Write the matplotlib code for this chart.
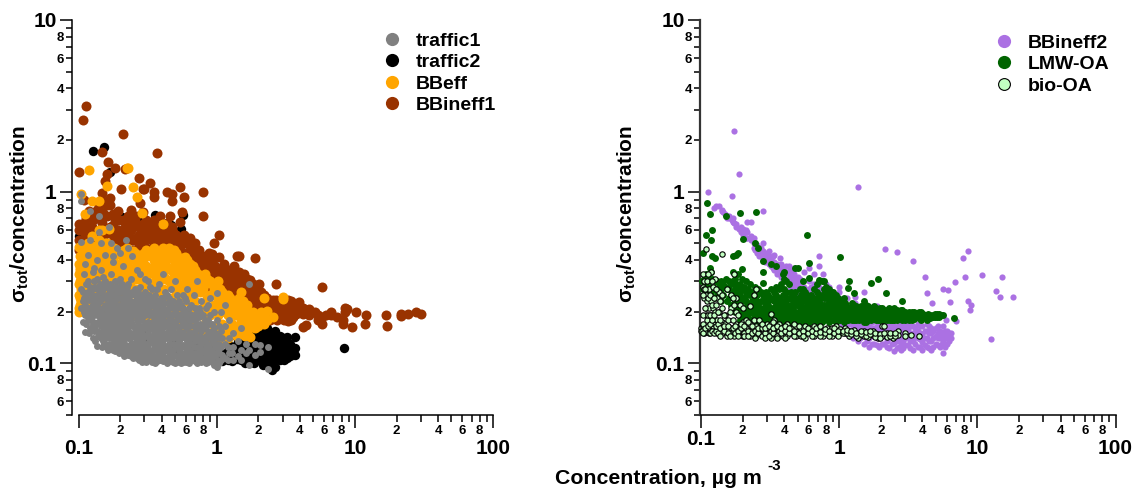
import matplotlib
matplotlib.use("Agg")
import matplotlib.pyplot as plt
from matplotlib.lines import Line2D

plt.rcParams['font.family'] = ['Liberation Sans', 'DejaVu Sans']
plt.rcParams['font.weight'] = 'bold'
plt.rcParams['mathtext.fontset'] = 'custom'
plt.rcParams['mathtext.bf'] = 'Liberation Sans:bold'
plt.rcParams['mathtext.rm'] = 'Liberation Sans:bold'
plt.rcParams['mathtext.default'] = 'bf'

# each row: (concentration, [sigma/concentration values at that concentration])
traffic2 = [
 (.1,[.555]),(.127,[1.72]),(.154,[1.81]),(.17,[1.3]),(.148,[.69]),(.207,[.716]),(.249,[.53]),(.279,[.67]),
 (.36,[.735]),(.41,[.65]),(.467,[.64]),(.548,[.607]),(.575,[.735]),(.64,[.5]),(.65,[.4]),(.853,[.402]),
 (.3,[.16,.14]),(.5,[.14,.12]),(.7,[.125,.13]),(.85,[.115,.125]),(.92,[.11,.12]),
 (1.0,[.105,.112]),(1.1,[.103,.115]),(1.2,[.105,.118,.13]),(1.3,[.103,.113,.125]),(1.4,[.106,.118,.13,.142]),
 (1.5,[.104,.115,.127,.14,.15]),(1.6,[.101,.112,.124,.136,.148]),(1.72,[.1,.11,.12,.132,.145,.158]),
 (1.85,[.1,.11,.122,.135,.148,.162]),(2.0,[.104,.115,.127,.14,.152,.165]),(2.15,[.098,.108,.12,.132,.145,.158,.17]),
 (2.3,[.1,.11,.122,.135,.148,.16]),(2.5,[.092,.102,.113,.125,.138,.15]),(2.65,[.095,.106,.118,.13,.143,.155]),
 (2.85,[.104,.112,.122,.133,.145]),(3.05,[.105,.115,.125,.14]),(3.2,[.108,.118,.128,.143]),(3.4,[.11,.12,.13]),
 (3.67,[.112,.122,.142]),(8.4,[.122]),
]
bbineff1 = [
 (.1,[.46,.52,.6,.65]),(.101,[1.3]),(.105,[.48,.63]),(.107,[2.61]),(.113,[3.16,.55,.7]),(.12,[.5,.62,.77]),
 (.128,[.46,.56,.68]),(.14,[.48,.6,.74,.83]),(.149,[1.71,.98,.52,.66]),(.155,[1.15,.44,.57]),(.161,[1.27,.84,.72]),
 (.163,[1.48]),(.17,[.914,.837,.5,.62]),(.184,[1.37,.44,.55,.69]),(.193,[.775,.5,.6]),(.202,[1.04,.46,.54]),
 (.21,[2.17,.68]),(.217,[1.36,.62,.5]),(.23,[.72,.44,.56,.66]),(.25,[.62,.46,.52]),(.272,[1.2,.56,.62,.48]),
 (.28,[.86,.5,.43]),(.295,[.76,1.03,.58,.65,.5]),(.3,[1.03]),(.329,[1.12,.53,.62,.46]),(.35,[1.0,.935,.68,.58,.5]),
 (.37,[1.68,.62,.54]),(.39,[.72,.5,.58,.45]),(.434,[.99,.66,.56,.5,.45]),(.459,[.725,.58,.5]),(.474,[.975,.887,.62,.54]),
 (.51,[.5,.56,.44,.4]),(.547,[1.06,.664,.52,.46]),(.557,[.76]),(.579,[.935,.56,.5]),(.64,[.54,.48,.42,.37]),
 (.7,[.5,.44,.38,.34]),(.77,[.38,.42,.35,.31]),(.794,[.99,.725]),(.85,[.36,.32,.4,.28]),(.92,[.39,.436,.33,.28]),
 (.96,[.5,.31,.36]),(1.04,[.56,.414,.34,.3,.26]),(1.12,[.34,.38,.3,.26]),(1.22,[.35,.31,.28,.24]),(1.33,[.33,.37,.29,.25]),
 (1.4,[.42,.335,.3,.27]),(1.46,[.42,.34,.25,.29]),(1.57,[.33,.3,.27,.23]),(1.74,[.304,.27,.24,.21]),(1.9,[.41,.26,.23]),
 (2.02,[.29,.24,.21]),(2.2,[.25,.22,.19]),(2.45,[.22,.2,.18]),(2.67,[.288,.235,.21,.19]),(2.85,[.23,.205,.185]),
 (3.05,[.225,.2,.18]),(3.3,[.235,.21,.19,.176]),(3.55,[.225,.2,.185]),(3.75,[.215,.195]),(3.94,[.229,.2]),
 (4.2,[.163,.21,.195]),(4.4,[.168,.205]),(4.62,[.208,.19]),(5.14,[.199]),(5.45,[.18,.19]),(5.74,[.28,.17,.185]),
 (6.2,[.19]),(6.7,[.199,.19]),(7.4,[.186]),(8.2,[.17,.18]),(8.5,[.2,.21]),(8.7,[.208]),(9.6,[.163]),(10.2,[.199]),
 (11.8,[.17]),(12,[.19]),(16.7,[.192]),(17.1,[.166]),(21.6,[.195,.188]),(24.3,[.193]),(27.5,[.199]),(30.2,[.195]),
 (.11,[.58,.66,.9]),(.125,[.5,.62,.72]),(.135,[.56,.7,.78]),(.15,[.58,.75,.88]),(.178,[.56,.64,.74]),(.195,[.68,.58,.54]),
 (.21,[.54,.58,.46]),(.24,[.52,.6,.68,.78]),(.26,[.54,.66,.72]),(.31,[.56,.68,.47]),(.36,[.44,.5,.56,.6]),(.41,[.48,.54,.62,.58]),
 (.48,[.46,.52,.58]),(.53,[.42,.48,.54]),(.6,[.44,.5,.4]),(.67,[.42,.47,.38]),(.74,[.37,.4,.46]),(.82,[.33,.37,.42]),
 (.88,[.3,.34,.38,.44]),(.98,[.29,.33,.37]),(1.08,[.3,.33,.36]),(1.18,[.28,.32,.35]),(1.28,[.27,.31,.35]),(1.5,[.26,.3,.33]),
 (1.65,[.25,.28,.31]),(1.82,[.23,.26,.29]),(2.1,[.21,.23,.26]),(2.3,[.2,.22,.24]),(2.55,[.195,.215,.235]),(2.75,[.18,.2,.22]),
 (2.95,[.19,.215,.235]),(3.15,[.185,.205,.225]),(3.45,[.18,.195,.215,.23]),(3.65,[.19,.21,.22]),
]
bbeff = [
 (.1,[.2,.21,.25,.29,.33,.38,.474]),(.105,[.97,.23,.27,.31,.47]),(.112,[.2,.26,.36,.44,.74]),(.119,[1.34,.22,.29,.33]),
 (.125,[.88,.24,.38,.43,.55]),(.13,[.41,.2,.27,.33]),(.14,[.88,.6,.24,.3,.37,.52]),(.148,[.6,.22,.33,.43]),
 (.155,[.27,.38,.5,.2]),(.162,[1.08,.24,.31]),(.165,[.61,.44,.37]),(.175,[.21,.28,.34,.4]),(.19,[.25,.32,.38,.45]),
 (.205,[.2,.28,.35,.42]),(.223,[1.38,.24,.31,.39,.47]),(.23,[1.37]),(.24,[.21,.27,.34,.41]),(.249,[1.06,.45]),
 (.266,[.927,.19,.25,.31,.37,.42]),(.289,[.748,.22,.28,.34,.4]),(.31,[.19,.25,.31,.37,.46]),(.335,[.2,.27,.34,.42]),
 (.36,[.18,.23,.3,.37,.44]),(.39,[.2,.26,.33,.4]),(.41,[.645,.17,.47]),(.43,[.19,.24,.31,.37,.43]),(.47,[.16,.22,.28,.35,.42,.46]),
 (.51,[.18,.25,.31,.38,.44]),(.55,[.16,.21,.28,.35,.41]),(.589,[.415,.18,.25,.32,.37]),(.64,[.15,.2,.27,.34,.38]),
 (.7,[.16,.23,.29,.35]),(.76,[.14,.19,.26,.32]),(.82,[.135,.17,.22,.29,.33]),(.89,[.135,.19,.25,.3]),(.95,[.14,.165,.22,.27]),
 (1.02,[.3,.135,.19,.24]),(1.1,[.145,.17,.21,.26]),(1.2,[.14,.19,.23,.25]),(1.3,[.15,.17,.21]),(1.4,[.145,.19,.23]),
 (1.5,[.26,.15,.175,.21]),(1.6,[.145,.17,.2]),(1.67,[.22,.15,.185]),(1.74,[.142,.17,.2]),(1.9,[.16,.18,.195]),
 (2.0,[.165,.19]),(2.2,[.239,.17,.19]),(2.3,[.203,.18]),(2.57,[.186]),(3.0,[.243,.238]),
 (.103,[.22,.35]),(.115,[.24,.31,.4]),(.122,[.2,.27,.35,.47]),(.135,[.22,.3,.35,.45]),(.145,[.26,.4,.5]),(.152,[.31,.36,.46]),
 (.17,[.23,.3,.36,.44]),(.18,[.25,.31,.42,.47]),(.198,[.22,.29,.36,.44]),(.215,[.26,.33,.4,.46]),(.235,[.22,.29,.36,.43]),
 (.255,[.19,.27,.33,.4,.44]),(.28,[.2,.25,.31,.37,.43]),(.3,[.21,.28,.34,.41,.44]),(.325,[.18,.24,.29,.36,.44]),
 (.35,[.2,.27,.33,.4,.47]),(.38,[.18,.24,.3,.36,.44]),(.41,[.2,.27,.33,.39,.45]),(.45,[.17,.24,.3,.36,.41,.47]),
 (.49,[.2,.27,.33,.4,.46]),(.53,[.17,.23,.29,.36,.41]),(.57,[.2,.27,.33,.39]),(.61,[.17,.23,.3,.36,.4]),(.67,[.18,.25,.31,.37]),
 (.73,[.15,.2,.28,.33]),(.79,[.16,.21,.27,.31]),(.85,[.15,.19,.24,.31]),(.92,[.15,.21,.25,.29]),(.99,[.15,.2,.25]),
 (1.06,[.16,.22,.27]),(1.15,[.15,.2,.24]),(1.25,[.16,.2,.24]),(1.35,[.15,.19,.22]),(1.45,[.16,.2,.24]),(1.55,[.16,.19,.23]),
 (1.7,[.16,.19]),(1.82,[.17,.2]),(2.1,[.18,.2]),
 (.102,[.24,.3,.36,.42]),(.108,[.21,.28,.34,.4]),(.118,[.21,.26,.36,.42,.5]),(.128,[.22,.3,.4,.48]),(.14,[.2,.27,.34,.42,.47]),
 (.16,[.21,.28,.35,.42,.5]),(.185,[.21,.28,.36,.45]),(.21,[.21,.29,.37,.45]),
]
traffic1 = [
 (.105,[.97,.88,.21,.27,.51]),(.109,[.2,.24,.33]),(.111,[.152,.19,.22,.38]),(.118,[.18,.21,.26,.3,.43]),
 (.122,[.77,.16,.28,.52]),(.128,[.17,.2,.23,.34]),(.135,[.127,.155,.19,.25,.31,.4]),(.14,[.72,.58,.175,.21,.28]),
 (.146,[.14,.165,.2,.26,.35,.5]),(.155,[.15,.18,.22,.24,.3,.43]),(.165,[.13,.16,.19,.23,.27,.62]),
 (.172,[.14,.17,.21,.25,.33,.5]),(.179,[.119,.15,.18,.22,.39,.42]),(.19,[.127,.14,.165,.2,.24,.28,.47]),
 (.2,[.122,.155,.18,.21,.26,.31,.44]),(.211,[.118,.135,.17,.195,.23,.37]),(.22,[.128,.15,.185,.215,.25,.52]),
 (.23,[.112,.14,.16,.2,.24,.29,.47]),(.245,[.12,.13,.17,.19,.225,.26,.42]),(.263,[.107,.125,.145,.18,.21,.24,.35]),
 (.28,[.112,.135,.155,.19,.22,.28,.33]),(.295,[.105,.12,.14,.165,.2,.25]),(.32,[.11,.128,.15,.175,.21,.24,.3]),
 (.34,[.102,.118,.135,.16,.19,.225,.27]),(.357,[.1,.125,.145,.17,.2,.25]),(.38,[.105,.118,.14,.155,.185,.22,.29]),
 (.41,[.103,.112,.13,.15,.18,.21,.24,.33]),(.44,[.1,.12,.14,.165,.195,.25]),(.47,[.105,.115,.13,.15,.18,.215,.27]),
 (.5,[.1,.112,.125,.145,.17,.2,.3]),(.53,[.105,.118,.135,.155,.185,.23]),(.57,[.102,.112,.128,.15,.175,.21,.25]),
 (.61,[.103,.12,.135,.165,.195,.27]),(.65,[.105,.115,.13,.15,.18,.22]),(.716,[.3,.1,.112,.125,.145,.17,.2]),
 (.77,[.102,.115,.13,.155,.19,.23]),(.83,[.1,.11,.125,.145,.17,.21]),(.89,[.104,.118,.14,.19,.24]),(.95,[.098,.11,.13,.16,.2]),
 (1.0,[.095,.115,.14,.256,.18]),(1.07,[.105,.125,.155,.2]),(1.14,[.108,.13,.165,.22]),(1.22,[.115,.14,.18]),
 (1.32,[.105,.125,.15]),(1.42,[.11,.135]),(1.5,[.16,.12,.105]),(1.62,[.13,.115]),(1.7,[.098,.288,.12]),(1.9,[.112,.13]),
 (2.06,[.128,.117]),(2.35,[.093,.125]),
 (.125,[.185,.215,.25]),(.13,[.155,.3,.36]),(.143,[.15,.185,.23,.29]),(.15,[.135,.16,.21,.27,.32]),(.16,[.125,.145,.175,.205,.25]),
 (.168,[.15,.19,.22,.29]),(.175,[.122,.16,.2,.23,.27]),(.185,[.135,.17,.21,.25,.3]),(.195,[.115,.15,.19,.22,.27]),
 (.205,[.125,.145,.175,.2,.24,.29]),(.215,[.11,.155,.185,.21,.26]),(.225,[.12,.165,.195,.23,.28]),(.24,[.11,.13,.15,.18,.21,.25,.31]),
 (.255,[.115,.16,.2,.23,.27]),(.27,[.112,.13,.17,.2,.225,.26]),(.288,[.102,.125,.15,.18,.21,.24]),(.305,[.11,.13,.16,.19,.22,.26,.31]),
 (.33,[.105,.12,.14,.165,.2,.23,.28]),(.35,[.11,.13,.155,.18,.215,.24]),(.37,[.103,.12,.135,.165,.195,.23,.27]),
 (.395,[.11,.125,.145,.17,.2,.24]),(.425,[.105,.125,.14,.165,.19,.225,.26]),(.455,[.11,.13,.155,.18,.21,.24]),
 (.485,[.102,.12,.14,.16,.19,.23]),(.515,[.11,.13,.15,.18,.21,.25]),(.55,[.1,.115,.14,.165,.195,.22]),(.59,[.11,.125,.145,.17,.2,.24]),
 (.63,[.1,.112,.13,.15,.18,.21]),(.68,[.11,.125,.14,.165,.19,.25]),(.74,[.105,.12,.135,.16,.185,.21]),(.8,[.108,.12,.14,.165,.19]),
 (.86,[.102,.115,.13,.155,.18,.22]),(.92,[.105,.12,.145,.17]),(.98,[.1,.11,.125,.15]),(1.04,[.1,.115,.13,.165]),(1.1,[.112,.14]),
 (1.2,[.105,.125]),(1.28,[.115]),
 (.108,[.175,.23,.26]),(.113,[.17,.205,.25,.29]),(.12,[.15,.195,.235]),(.127,[.14,.175,.205,.27]),(.132,[.135,.165,.215,.24,.28]),
 (.138,[.145,.175,.205,.225,.27]),(.148,[.125,.15,.175,.195,.24]),(.153,[.13,.19,.25,.29]),(.158,[.14,.165,.19,.215,.28]),(.163,[.12,.155,.18,.24]),
 (.17,[.125,.155,.185,.235,.26]),(.178,[.13,.14,.17,.19,.21,.25]),(.183,[.118,.155,.19,.23,.28]),(.19,[.145,.18,.21,.26]),(.198,[.12,.135,.165,.205,.24,.3]),
 (.208,[.13,.16,.19,.22,.27]),(.218,[.115,.14,.17,.2,.24]),(.228,[.125,.15,.18,.215,.26]),(.235,[.115,.14,.17,.2,.23]),(.25,[.108,.125,.145,.165,.19,.21]),
 (.26,[.115,.135,.155,.19,.215,.25]),(.275,[.105,.12,.145,.165,.185,.215,.24]),(.29,[.115,.135,.16,.19,.225]),(.31,[.102,.12,.145,.17,.2,.235]),
 (.325,[.113,.135,.16,.19,.215,.25]),(.345,[.103,.12,.145,.17,.2,.23]),(.365,[.11,.13,.15,.18,.21]),(.385,[.105,.125,.15,.175,.2,.23]),(.405,[.115,.135,.16,.185,.22]),
 (.43,[.108,.12,.15,.175,.205]),(.46,[.103,.12,.14,.165,.195,.225]),(.49,[.11,.13,.15,.175,.21]),(.52,[.102,.125,.14,.165,.195,.22]),(.56,[.108,.125,.15,.18,.21]),
 (.6,[.102,.115,.14,.16,.185,.23]),(.64,[.108,.12,.14,.165,.195]),(.7,[.103,.115,.135,.155,.18,.21]),(.76,[.108,.125,.145,.17,.2]),(.82,[.104,.118,.135,.16,.18]),
 (.88,[.11,.125,.15,.17]),(.94,[.102,.115,.135,.155]),(1.02,[.105,.12,.145]),
]
bbineff2 = [
 (.113,[.99]),(.125,[.8]),(.128,[.82]),(.134,[.83]),(.141,[.775,.78]),(.15,[.74]),(.16,[.7,.72]),(.167,[.94,.68]),(.173,[2.26,.66]),
 (.18,[.65,.62]),(.188,[1.27,.61]),(.202,[.607,.56]),(.215,[.67,.54,.58]),(.23,[.52,.67,.55]),(.24,[.5,.47,.54]),(.253,[.486,.44]),(.265,[.47,.42,.45]),
 (.28,[.77,.45,.4,.5]),(.29,[.425,.39]),(.31,[.42,.38,.45]),(.33,[.39,.36,.42]),(.353,[.355,.38,.33]),(.38,[.35,.32,.38]),(.41,[.34,.3,.37]),
 (.44,[.32,.35,.29,.27]),(.47,[.3,.33,.27,.36]),(.5,[.29,.32,.27,.25]),(.52,[.29,.26,.31]),(.56,[.28,.25,.34]),(.6,[.27,.3,.25,.36]),
 (.66,[.26,.33,.29]),(.72,[.25,.42,.28,.37]),(.76,[.266,.24,.33]),(.85,[.25,.23,.28]),(1.0,[.24,.26,.28]),(1.13,[.24,.21]),(1.3,[.225,.245]),(1.5,[.22,.26]),(1.87,[.217]),
 (1.36,[1.06]),(2.15,[.464]),(2.6,[.444]),(3.4,[.397]),(4.2,[.32]),(4.3,[.257]),(4.7,[.224]),(5.6,[.27]),(6.1,[.266]),(6.3,[.227]),(6.9,[.296]),
 (7.9,[.41]),(8.5,[.45,.232]),(8.2,[.32]),(10.8,[.325]),(9,[.22]),(8.8,[.205]),(7,[.176]),(5.9,[.18]),(15,[.32]),(13.6,[.265]),(14.5,[.245]),(18,[.245]),(12.5,[.138]),
 (1.1,[.15,.165]),(1.25,[.14,.16,.17]),(1.36,[.15,.135,.17]),(1.5,[.13,.145,.16,.175]),(1.65,[.125,.14,.155,.17]),(1.8,[.13,.145,.16]),(1.95,[.125,.14,.155,.175]),
 (2.1,[.13,.145,.165,.175]),(2.3,[.123,.14,.155,.17]),(2.5,[.118,.132,.15,.165]),(2.7,[.125,.14,.155,.17]),(2.9,[.122,.135,.15,.165,.175]),(3.15,[.128,.142,.158,.17]),
 (3.4,[.12,.135,.15,.165]),(3.7,[.125,.14,.155,.17]),(4.0,[.12,.133,.148,.165]),(4.3,[.125,.14,.155,.17]),(4.6,[.12,.135,.15,.16]),(5.0,[.13,.145,.16]),(5.35,[.125,.14,.155]),
 (5.6,[.115,.135,.15,.165]),(6.0,[.13,.145,.155]),(6.4,[.14,.15]),
 (.145,[.76]),(.155,[.72,.7]),(.17,[.67,.7]),(.195,[.58,.62]),(.21,[.6,.54]),(.245,[.46,.5]),(.27,[.43,.47]),(.3,[.4,.44]),(.32,[.37,.41]),(.34,[.35,.39,.43]),
 (.37,[.33,.37,.41]),(.395,[.31,.36,.34]),(.43,[.3,.33,.37]),(.46,[.29,.32,.35]),(.49,[.28,.31,.27]),(.54,[.27,.3,.26]),(.62,[.26,.28]),(.7,[.25,.27]),(.8,[.24,.26,.29]),(.92,[.23,.25]),
 (1.05,[.17,.155]),(1.18,[.17,.15,.145]),(1.3,[.145,.155,.165]),(1.42,[.14,.15,.16,.17]),(1.58,[.135,.15,.16,.165]),(1.72,[.13,.148,.16,.175]),(1.88,[.128,.14,.15,.165]),
 (2.03,[.13,.15,.16,.17]),(2.2,[.125,.135,.15,.16,.175]),(2.4,[.13,.145,.16,.17]),(2.6,[.122,.135,.15,.16]),(2.8,[.12,.132,.145,.16]),(3.0,[.128,.14,.15,.16]),
 (3.27,[.122,.135,.15,.165]),(3.55,[.13,.145,.16]),(3.85,[.125,.138,.15,.165]),(4.15,[.128,.14,.155]),(4.45,[.122,.135,.15,.165]),(4.8,[.125,.14,.155]),
 (5.2,[.128,.14,.15,.165]),(5.5,[.13,.145]),(5.8,[.125,.14,.155]),(6.2,[.135,.15]),
]
lmw = [
 (.101,[.3]),(.103,[.437,.27]),(.107,[.29,.25]),(.109,[.562,.33]),(.111,[.855,.3,.25]),(.116,[.738,.36,.28]),(.118,[.526,.34,.26]),(.121,[.6,.42,.31]),(.127,[.41,.3,.27]),
 (.134,[.29,.26]),(.14,[.3,.27,.23]),(.152,[.72,.31,.28]),(.16,[.3,.27,.24]),(.17,[.42,.34,.3,.26,.22]),(.178,[.43,.29,.25,.21]),(.185,[.44,.33,.28,.22]),
 (.192,[.752,.29,.25,.21,.19]),(.197,[.355,.31,.23,.2]),(.2,[.53,.27,.19]),(.21,[.3,.26,.23,.2,.185]),(.225,[.29,.25,.22,.2,.18]),(.245,[.5,.28,.24,.21,.19,.18]),
 (.249,[.762,.23,.2]),(.26,[.47,.27,.22,.19,.175]),(.28,[.397,.342,.295,.25,.21,.18]),(.295,[.26,.22,.2,.18]),(.32,[.38,.27,.24,.21,.19,.175]),(.35,[.37,.28,.25,.22,.2,.18]),
 (.38,[.29,.23,.21,.19,.175]),(.4,[.34,.31,.27,.25,.22,.2,.18]),(.43,[.29,.24,.21,.19,.175]),(.48,[.36,.26,.23,.2,.18]),(.5,[.36,.24,.22,.19,.175]),(.55,[.3,.27,.24,.21,.19,.175]),
 (.585,[.557,.25,.22,.2,.18]),(.6,[.383,.315,.23,.21,.19,.175]),(.66,[.27,.24,.22,.2,.18]),(.72,[.307,.25,.23,.21,.19,.175]),(.78,[.3,.27,.24,.22,.2,.18]),(.8,[.28,.26,.21,.19]),
 (.9,[.26,.24,.22,.2,.18]),(.95,[.25,.21,.19,.175]),(1.01,[.415,.23,.2,.18]),(1.08,[.24,.22,.19,.175]),(1.16,[.274,.21,.2,.18]),(1.18,[.3,.19]),(1.28,[.257,.22,.2,.18]),
 (1.38,[.21,.19,.18]),(1.5,[.23,.205,.19,.175]),(1.62,[.215,.195,.18]),(1.7,[.293,.205,.185]),(1.85,[.21,.19,.178]),(1.92,[.31,.2]),(2.05,[.21,.195,.18]),(2.18,[.257,.2,.185]),
 (2.35,[.205,.19,.18]),(2.5,[.21,.195,.18]),(2.7,[.2,.185]),(2.87,[.232,.205,.19,.18]),(3.1,[.195,.185]),(3.35,[.2,.19,.18]),(3.6,[.195,.185]),(3.9,[.2,.19,.18]),(4.2,[.19,.185]),
 (4.55,[.19,.183]),(4.9,[.195,.185]),(5.3,[.195,.187]),(5.6,[.19]),(6.8,[.183]),
 (.105,[.31]),(.113,[.26,.32]),(.125,[.27,.24]),(.13,[.3,.25]),(.145,[.29,.25]),(.155,[.27,.23]),(.165,[.29,.25,.22]),(.175,[.31,.27,.23,.2]),(.182,[.27,.24,.2]),
 (.19,[.26,.23,.2,.18]),(.205,[.28,.24,.21,.18]),(.215,[.25,.22,.19]),(.22,[.27,.21,.185]),(.235,[.26,.23,.2,.18]),(.255,[.25,.21,.19,.175]),(.27,[.26,.23,.2,.18]),
 (.29,[.24,.21,.19,.175]),(.305,[.25,.22,.2,.18,.17]),(.335,[.26,.23,.21,.19,.175]),(.365,[.27,.24,.22,.2,.18,.17]),(.39,[.33,.25,.22,.2,.185]),(.415,[.3,.26,.23,.21,.19,.175]),
 (.445,[.26,.24,.22,.2,.185,.17]),(.465,[.25,.23,.21,.19,.175]),(.52,[.27,.23,.21,.2,.18]),(.57,[.26,.23,.21,.195,.18,.17]),(.63,[.25,.23,.21,.195,.18]),
 (.69,[.29,.26,.235,.21,.195,.18,.17]),(.75,[.3,.25,.22,.205,.19,.175]),(.84,[.27,.245,.225,.205,.19,.175]),(.87,[.25,.23,.21,.195,.18]),(.98,[.24,.22,.205,.19,.18]),
 (1.05,[.23,.21,.195,.185]),(1.12,[.22,.205,.19,.18]),(1.23,[.225,.21,.195,.18]),(1.33,[.215,.2,.19,.18]),(1.44,[.215,.2,.185]),(1.56,[.22,.2,.185,.175]),(1.78,[.215,.2,.185]),
 (1.98,[.21,.195,.18]),(2.12,[.205,.19,.18]),(2.28,[.21,.195,.183]),(2.42,[.205,.19,.18]),(2.6,[.205,.19,.18]),(2.78,[.205,.195,.183]),(3.0,[.2,.19,.18]),(3.22,[.2,.19,.18]),
 (3.48,[.2,.19,.182]),(3.75,[.2,.187]),(4.05,[.195,.185]),(4.4,[.195,.185]),(4.75,[.19,.185]),(5.1,[.195,.185]),(5.45,[.19]),
 (.24,[.25,.22,.195]),(.28,[.23,.2,.19]),(.31,[.235,.21,.19]),(.34,[.24,.21,.185]),(.37,[.23,.21,.19]),(.42,[.24,.22,.2,.18]),(.47,[.24,.22,.2]),(.53,[.25,.22,.2,.185]),
 (.59,[.24,.22,.2,.185]),(.65,[.23,.205,.19]),(.72,[.24,.215,.2,.185]),(.8,[.24,.22,.2,.185]),(.93,[.23,.21,.195,.18]),(1.1,[.225,.21,.195,.185]),(1.27,[.215,.2,.19]),
 (1.47,[.21,.195,.183]),(1.7,[.21,.195,.18]),(1.9,[.205,.19,.18]),(2.2,[.205,.195,.18]),(2.55,[.2,.19]),(2.95,[.2,.19]),(3.3,[.195,.185]),(3.8,[.195,.183]),(4.3,[.19,.18]),
]
bio = [
 (.1,[.16,.155]),(.103,[.165,.155,.33,.28]),(.106,[.15,.16,.24,.27,.3]),(.108,[.464,.25,.21,.19]),(.11,[.155,.18,.3,.23]),(.115,[.16,.15,.21,.27]),(.119,[.34,.19,.17,.23]),
 (.122,[.155,.165,.21,.28]),(.126,[.17,.2,.31]),(.13,[.16,.15,.18,.24]),(.135,[.155,.165,.2,.26]),(.143,[.434,.15,.175,.21,.25]),(.15,[.16,.17,.19]),(.155,[.155,.145,.27]),
 (.165,[.16,.15,.21,.25]),(.172,[.155,.145,.22,.33]),(.18,[.16,.17,.2,.24]),(.19,[.15,.165,.22]),(.2,[.155,.145,.175,.21]),(.21,[.16,.15,.18]),(.225,[.155,.145,.17,.215]),
 (.24,[.16,.15,.18,.25]),(.25,[.145,.155,.165,.27]),(.265,[.16,.15,.18]),(.285,[.155,.145,.165]),(.3,[.16,.15,.17]),(.32,[.155,.14,.17,.195]),(.34,[.16,.15,.18]),(.365,[.155,.145,.17]),
 (.39,[.16,.15,.145]),(.42,[.155,.145,.165,.17]),(.45,[.16,.15]),(.49,[.155,.145,.165]),(.53,[.16,.15,.145]),(.57,[.155,.165,.14]),(.61,[.15,.16]),(.66,[.155,.145,.165]),
 (.7,[.15,.158]),(.76,[.155,.145]),(.82,[.16,.15]),(.88,[.15,.16,.145]),(.95,[.155,.165,.148]),(1.02,[.15,.158]),(1.1,[.16,.15]),(1.18,[.145,.155]),(1.27,[.15,.156]),
 (1.36,[.14,.15]),(1.5,[.155,.145]),(1.62,[.15,.143]),(1.75,[.147,.155]),(1.9,[.148,.14]),(2.05,[.165,.145]),(2.2,[.15,.143]),(2.45,[.148,.14]),(2.65,[.155,.147]),(3.0,[.15,.145]),(3.3,[.147]),(3.78,[.145]),
 (.101,[.155]),(.104,[.15,.17,.25,.19]),(.107,[.16,.21,.27]),(.112,[.165,.19,.24,.33]),(.117,[.15,.17,.19,.25]),(.12,[.155,.18,.22,.3]),(.124,[.15,.19,.24]),(.128,[.155,.165,.22,.27]),
 (.133,[.15,.17,.2]),(.138,[.145,.16,.18,.23]),(.147,[.155,.165,.19]),(.158,[.15,.165,.18]),(.162,[.145,.2]),(.17,[.16,.18,.24]),(.176,[.15,.165]),(.185,[.155,.145,.19]),(.195,[.16,.17]),
 (.205,[.15,.165,.145]),(.218,[.155,.175,.145]),(.232,[.15,.165]),(.245,[.155,.14]),(.258,[.15,.16]),(.275,[.145,.16,.17]),(.292,[.15,.16,.14]),(.31,[.145,.165]),(.33,[.15,.16,.175]),
 (.352,[.145,.165,.14]),(.378,[.15,.16]),(.405,[.155,.165,.14]),(.435,[.15,.16]),(.47,[.145,.155,.17]),(.51,[.15,.165]),(.55,[.155,.145]),(.59,[.15,.16]),(.635,[.145,.155]),(.68,[.15,.16]),
 (.73,[.145,.152,.165]),(.79,[.15,.158]),(.85,[.145,.155]),(.91,[.15,.16]),(.98,[.145,.155]),(1.06,[.15,.155]),(1.14,[.15,.157]),(1.22,[.148,.155]),(1.32,[.145,.15]),(1.43,[.148,.155]),
 (1.56,[.145,.152]),(1.68,[.148,.155]),(1.82,[.143,.15]),(1.98,[.148,.14]),(2.12,[.165,.15]),(2.32,[.145,.15]),(2.55,[.145,.15]),
]

major = [0.1, 1, 10, 100]
minor_x = [m * d for d in (0.1, 1, 10) for m in range(2, 10)]
minor_x_labels = ['2', '', '4', '', '6', '', '8', ''] * 3
major_y = [0.1, 1, 10]
minor_y = [m * d for d in (0.01, 0.1, 1) for m in range(2, 10) if m * d >= 0.0499]
minor_y_labels = ['', '6', '', '8', ''] + ['2', '', '4', '', '6', '', '8', ''] * 2

FW, FH = 1133, 488
fig = plt.figure(figsize=(FW / 100, FH / 100), dpi=100)


def flat(rows):
    xs, ys = [], []
    for x, vals in rows:
        for v in vals:
            xs.append(x)
            ys.append(v)
    return xs, ys


def make_axes(left, ylw, ycolor, offset):
    ax = fig.add_axes([left / FW, (FH - 415) / FH, 414.6 / FW, 395 / FH])
    ax.set_xscale('log')
    ax.set_yscale('log')
    ax.set_xlim(0.1, 100)
    ax.set_ylim(0.05, 10)
    ax.spines['top'].set_visible(False)
    ax.spines['right'].set_visible(False)
    ax.spines['bottom'].set_linewidth(1.1)
    ax.spines['left'].set_linewidth(ylw)
    ax.spines['left'].set_color(ycolor)
    ax.spines['left'].set_position(('outward', offset))
    ax.set_xticks(major)
    ax.set_xticklabels(['0.1', '1', '10', '100'], fontsize=15, fontweight='bold')
    ax.set_xticks(minor_x, minor=True)
    ax.set_xticklabels(minor_x_labels, minor=True, fontsize=9.5, fontweight='bold')
    ax.set_yticks(major_y)
    ax.set_yticklabels(['0.1', '1', '10'], fontsize=15, fontweight='bold')
    ax.set_yticks(minor_y, minor=True)
    ax.set_yticklabels(minor_y_labels, minor=True, fontsize=9.5, fontweight='bold')
    ax.tick_params(axis='x', which='major', length=9, width=1.1, pad=8.5)
    ax.tick_params(axis='x', which='minor', length=5, width=1.1, pad=2)
    ax.tick_params(axis='y', which='major', length=9, width=1.1, pad=2)
    ax.tick_params(axis='y', which='minor', length=4.5, width=1.1, pad=1.2)
    return ax


ax1 = make_axes(78.5, 1.1, 'black', 4.7)
ax2 = make_axes(701, 1.6, '#333333', 0.7)
ax2.xaxis.get_major_ticks()[0].set_pad(2)

ax1.scatter(*flat(traffic2), s=46, c='black', lw=0, clip_on=False, zorder=3)
ax1.scatter(*flat(bbineff1), s=52, c='#993300', lw=0, clip_on=False, zorder=4)
ax1.scatter(*flat(bbeff), s=52, c='#FFA500', lw=0, clip_on=False, zorder=5)
ax1.scatter(*flat(traffic1), s=25, c='#808080', lw=0, clip_on=False, zorder=6)

ax2.scatter(*flat(bbineff2), s=20, c='#AB71E3', lw=0, clip_on=False, zorder=3)
ax2.scatter(*flat(lmw), s=25, c='#006400', lw=0, clip_on=False, zorder=4)
ax2.scatter(*flat(bio), s=15, c='#C1FFC1', edgecolors='black', lw=0.8, clip_on=False, zorder=5)


def handle(color, label, ms, edge=None):
    return Line2D([], [], ls='', marker='o', ms=ms, mfc=color, mec=edge or color,
                  mew=0.8 if edge else 0, label=label)


leg_kw = dict(frameon=False, prop={'size': 14, 'weight': 'bold'}, handletextpad=0.75,
              labelspacing=0.2, borderpad=0, borderaxespad=0, handlelength=1.0)
ax1.legend(handles=[handle('#808080', 'traffic1', 9.5), handle('black', 'traffic2', 9.5),
                    handle('#FFA500', 'BBeff', 9.5), handle('#993300', 'BBineff1', 9.5)],
           loc='upper left', bbox_to_anchor=((382 - 78.5) / 414.6, (415 - 32) / 395), **leg_kw)
ax2.legend(handles=[handle('#AB71E3', 'BBineff2', 9.5), handle('#006400', 'LMW-OA', 9.5),
                    handle('#C1FFC1', 'bio-OA', 8.5, 'black')],
           loc='upper left', bbox_to_anchor=((994 - 701) / 414.6, (415 - 34) / 395), **leg_kw)

ylabel = r'$\mathbf{σ_{tot}}$/concentration'
fig.text(20 / FW, 1 - 214 / FH, ylabel, rotation=90, ha='center', va='center', fontsize=15, fontweight='bold')
fig.text(627 / FW, 1 - 214 / FH, ylabel, rotation=90, ha='center', va='center', fontsize=15, fontweight='bold')
fig.text(555 / FW, 1 - 478 / FH, 'Concentration, µg m', ha='left', va='center', fontsize=15.3, fontweight='bold')
fig.text(767 / FW, 1 - 466 / FH, '-3', ha='left', va='center', fontsize=11, fontweight='bold')

fig.savefig('out.png', dpi=100)
